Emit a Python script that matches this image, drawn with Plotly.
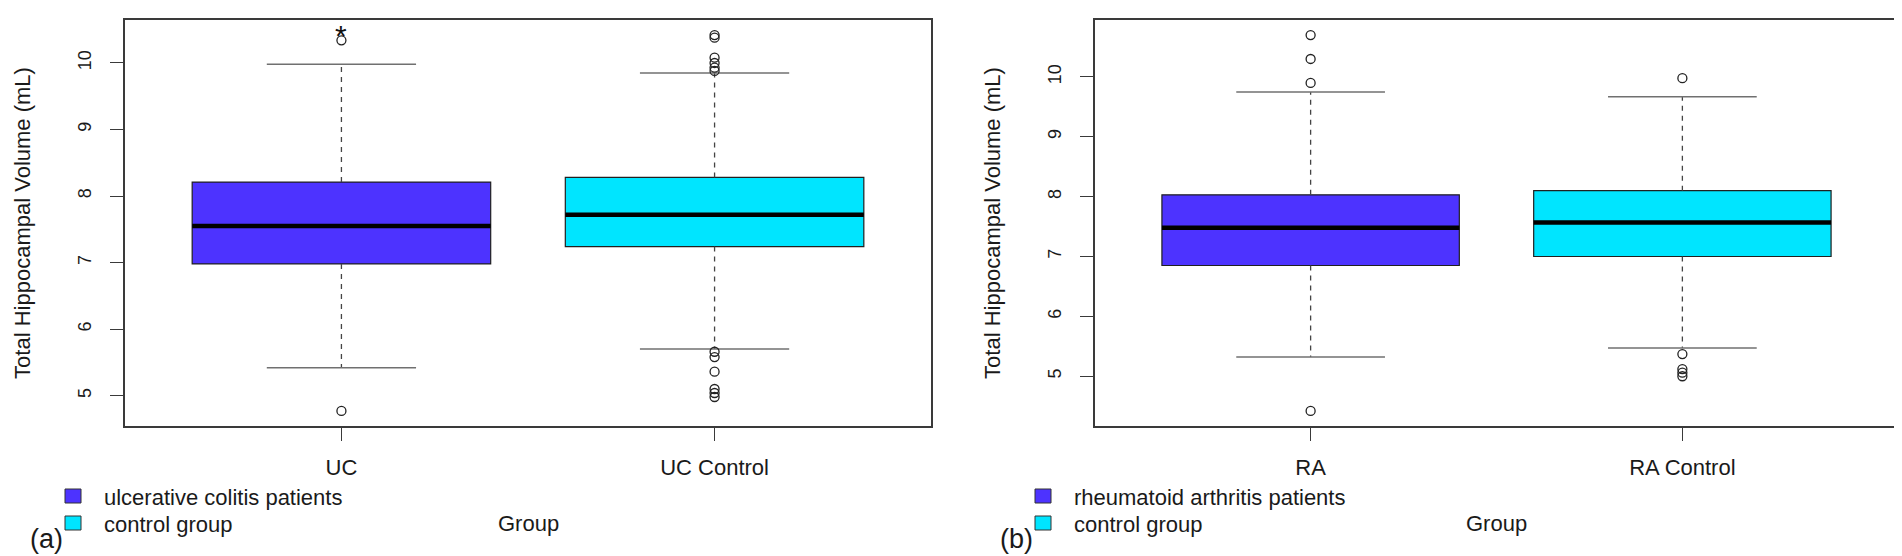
import plotly.graph_objects as go

# ---------------- data ----------------
groups_a = ["UC", "UC Control"]
q1_a = [6.98, 7.24]
median_a = [7.55, 7.72]
q3_a = [8.21, 8.28]
lower_whisker_a = [5.42, 5.70]
upper_whisker_a = [9.98, 9.85]
outliers_a = [
    [10.34, 4.77],
    [10.42, 10.38, 10.08, 10.00, 9.93, 9.88, 5.66, 5.58, 5.36, 5.10, 5.04, 4.98],
]
legend_a = ["ulcerative colitis patients", "control group"]

groups_b = ["RA", "RA Control"]
q1_b = [6.85, 7.00]
median_b = [7.48, 7.57]
q3_b = [8.03, 8.10]
lower_whisker_b = [5.32, 5.47]
upper_whisker_b = [9.75, 9.67]
outliers_b = [
    [10.70, 10.30, 9.90, 4.42],
    [9.98, 5.37, 5.12, 5.06, 5.00],
]
legend_b = ["rheumatoid arthritis patients", "control group"]

y_ticks = [5, 6, 7, 8, 9, 10]
fill_colors = ["#4D33FF", "#00E5FF"]
y_title = "Total Hippocampal Volume (mL)"
x_title = "Group"
star_position = 10.42  # significance marker above the UC outlier

# ---------------- layout helpers ----------------
W, H = 1902, 556
FONT = "Liberation Sans, Arial, Helvetica, sans-serif"
TXT = "#1a1a1a"
FRAME = "#3a3a3a"


def px(x):
    return x / W


def py(y):
    return 1 - y / H


fig = go.Figure()

panels = [
    dict(xa="x", ya="y", groups=groups_a, q1=q1_a, med=median_a, q3=q3_a,
         lw=lower_whisker_a, uw=upper_whisker_a, out=outliers_a, leg=legend_a,
         left=117, right=923, tag="(a)"),
    dict(xa="x2", ya="y2", groups=groups_b, q1=q1_b, med=median_b, q3=q3_b,
         lw=lower_whisker_b, uw=upper_whisker_b, out=outliers_b, leg=legend_b,
         left=1087, right=1890, tag="(b)"),
]

BOX_W = 0.8
CAP_HALF = 0.2

for p in panels:
    for i, g in enumerate(p["groups"]):
        c = i + 1
        # box body
        fig.add_trace(go.Box(
            x=[c], q1=[p["q1"][i]], median=[p["med"][i]], q3=[p["q3"][i]],
            lowerfence=[p["q1"][i]], upperfence=[p["q3"][i]],
            width=BOX_W, fillcolor=fill_colors[i],
            line=dict(color="#202020", width=1.2), whiskerwidth=0,
            boxpoints=False, xaxis=p["xa"], yaxis=p["ya"],
            showlegend=False, hoverinfo="skip", name=g,
        ))
        # median (thick)
        fig.add_trace(go.Scatter(
            x=[c - BOX_W / 2, c + BOX_W / 2], y=[p["med"][i], p["med"][i]],
            mode="lines", line=dict(color="#000000", width=4.5),
            xaxis=p["xa"], yaxis=p["ya"], showlegend=False, hoverinfo="skip",
        ))
        # dashed whiskers
        fig.add_trace(go.Scatter(
            x=[c, c, None, c, c],
            y=[p["q3"][i], p["uw"][i], None, p["q1"][i], p["lw"][i]],
            mode="lines", line=dict(color="#444444", width=1.3, dash="5px,5px"),
            xaxis=p["xa"], yaxis=p["ya"], showlegend=False, hoverinfo="skip",
        ))
        # staples
        fig.add_trace(go.Scatter(
            x=[c - CAP_HALF, c + CAP_HALF, None, c - CAP_HALF, c + CAP_HALF],
            y=[p["uw"][i], p["uw"][i], None, p["lw"][i], p["lw"][i]],
            mode="lines", line=dict(color="#707070", width=1.5),
            xaxis=p["xa"], yaxis=p["ya"], showlegend=False, hoverinfo="skip",
        ))
        # outliers
        fig.add_trace(go.Scatter(
            x=[c] * len(p["out"][i]), y=p["out"][i], mode="markers",
            marker=dict(symbol="circle-open", size=9, color="#222222",
                        line=dict(width=1.3, color="#222222")),
            xaxis=p["xa"], yaxis=p["ya"], showlegend=False, hoverinfo="skip",
        ))


def yrange(p):
    vals = p["lw"] + p["uw"] + [v for o in p["out"] for v in o]
    lo, hi = min(vals), max(vals)
    pad = 0.04 * (hi - lo)
    return [lo - pad, hi + pad]


def xaxis_cfg(p, anchor):
    return dict(
        domain=[px(p["left"]), px(p["right"])], range=[0.42, 2.58],
        tickvals=[1, 2], ticktext=p["groups"], ticks="outside", ticklen=13,
        tickwidth=1.3, tickcolor=FRAME, showline=True, mirror=True,
        linecolor=FRAME, linewidth=1.6, showgrid=False, zeroline=False,
        tickfont=dict(size=22, color=TXT, family=FONT), ticklabelstandoff=8,
        fixedrange=True, anchor=anchor,
    )


def yaxis_cfg(p, anchor):
    return dict(
        domain=[py(418), py(12)], range=yrange(p), tickvals=y_ticks,
        tickangle=-90, ticks="outside", ticklen=13, tickwidth=1.3,
        tickcolor=FRAME, showline=True, mirror=True, linecolor=FRAME,
        linewidth=1.6, showgrid=False, zeroline=False, anchor=anchor,
        tickfont=dict(size=18, color=TXT, family=FONT), ticklabelstandoff=12,
        title=dict(text=y_title, font=dict(size=22, color=TXT, family=FONT),
                   standoff=38),
        fixedrange=True,
    )


annotations = []
shapes = []
for p in panels:
    L, R = p["left"], p["right"]
    # legend squares + labels
    for k, (lab, yc) in enumerate(zip(p["leg"], [488, 515])):
        shapes.append(dict(
            type="rect", xref="paper", yref="paper",
            x0=px(L - 60), x1=px(L - 44), y0=py(yc + 7), y1=py(yc - 7),
            fillcolor=fill_colors[k], line=dict(color="#333333", width=1),
        ))
        annotations.append(dict(
            text=lab, xref="paper", yref="paper", x=px(L - 23), y=py(yc + 1),
            xanchor="left", yanchor="middle", showarrow=False,
            font=dict(size=22, color=TXT, family=FONT),
        ))
    # panel tag
    annotations.append(dict(
        text=p["tag"], xref="paper", yref="paper", x=px(L - 79), y=py(531),
        xanchor="center", yanchor="middle", showarrow=False,
        font=dict(size=27, color=TXT, family=FONT),
    ))
    # x title
    annotations.append(dict(
        text=x_title, xref="paper", yref="paper", x=px((L + R) / 2), y=py(515),
        xanchor="center", yanchor="middle", showarrow=False,
        font=dict(size=22, color=TXT, family=FONT),
    ))

# significance star over UC outlier
annotations.append(dict(
    text="*", xref="x", yref="y", x=1, y=star_position, xanchor="center",
    yanchor="middle", showarrow=False,
    font=dict(size=30, color="#111111", family=FONT),
))

fig.update_layout(
    width=W, height=H, margin=dict(l=0, r=0, t=0, b=0),
    paper_bgcolor="white", plot_bgcolor="white", showlegend=False,
    boxmode="overlay",
    xaxis=xaxis_cfg(panels[0], "y"), yaxis=yaxis_cfg(panels[0], "x"),
    xaxis2=xaxis_cfg(panels[1], "y2"), yaxis2=yaxis_cfg(panels[1], "x2"),
    annotations=annotations, shapes=shapes,
    font=dict(family=FONT, color=TXT),
)

fig.write_html("out.html", config={"displayModeBar": False})
